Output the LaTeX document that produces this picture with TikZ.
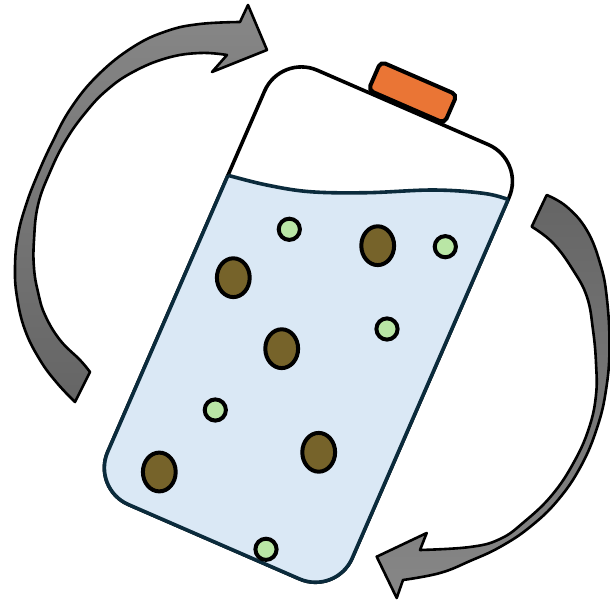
\documentclass[tikz,border=0pt]{standalone}
\begin{document}
\definecolor{liquidblue}{HTML}{DAE8F5}
\definecolor{liquidedge}{HTML}{0B2B3C}
\definecolor{capfill}{HTML}{EA7535}
\definecolor{grainbrown}{HTML}{76632A}
\definecolor{seedgreen}{HTML}{B9E6A5}
\definecolor{arrowlight}{HTML}{878787}
\definecolor{arrowdark}{HTML}{656565}
\begin{tikzpicture}[x=1pt,y=-1pt,
  arrowband/.style={draw=black, line width=2.6pt, line join=round},
  bottleshell/.style={draw=black, line width=3.6pt, fill=white},
  liquidline/.style={draw=liquidedge, line width=3.6pt},
  capbox/.style={draw=black, line width=4pt, fill=capfill, rounded corners=5pt},
  grain/.style={draw=black, line width=4pt, fill=grainbrown},
  seed/.style={draw=black, line width=4pt, fill=seedgreen},
  bottleframe/.style={shift={(308.4,324.6)}, rotate=-23.5},
  pixelframe/.style={rotate=23.5, shift={(-308.4,-324.6)}}]
\useasboundingbox (0,0) rectangle (610,601);

% curved arrow on the left, turning clockwise over the top
\draw[arrowband, top color=arrowlight, bottom color=arrowdark]
  (90,372) -- (75,402)
  -- plot[smooth, tension=0.7] coordinates {(75,402) (57,383) (40,360) (25,330) (17,297) (15,267) (18,235) (26,205) (37,176) (52,143) (71,108) (98,75) (133,47) (167,31) (200,24) (240,22)}
  -- (248,5) -- (267,50) -- (212,72) -- (227,55)
  -- plot[smooth, tension=0.7] coordinates {(227,55) (200,53) (167,58) (133,72) (107,90) (86,112) (66,140) (50,172) (38,205) (34,240) (34,268) (38,292) (45,315) (60,340) (80,360) (90,372)}
  -- cycle;

% curved arrow on the right, turning clockwise under the bottom
\draw[arrowband, top color=arrowdark, bottom color=arrowlight]
  (531.7,226.7) -- (546.7,195)
  -- plot[smooth, tension=0.7] coordinates {(546.7,195) (566.7,206.7) (586.7,230) (600,263) (606.7,296.7) (609.5,346.7) (606,390) (597,428) (581,466) (558,500) (530,527) (500,547) (470,561) (440,573) (403,580)}
  -- (396.7,598) -- (376.7,556.7) -- (426.7,533) -- (420,550)
  -- plot[smooth, tension=0.7] coordinates {(420,550) (470,547) (500,539) (524,522) (552,495) (574,462) (589,428) (596,395) (596,363) (593,330) (587,297) (573,270) (553,243) (531.7,226.7)}
  -- cycle;

% empty bottle shell
\begin{scope}[bottleframe]
  \path[bottleshell, rounded corners=40pt] (-133.3,-236.8) rectangle (133.3,236.8);
\end{scope}

% liquid below the surface
\begin{scope}
  \clip plot[smooth, tension=0.6] coordinates {(212,171) (226.7,175) (266.7,185) (310,191.7) (366.7,192.7) (433.3,190) (483.3,193.3) (510,200) (524,206)}
    -- (615,206) -- (615,615) -- (-5,615) -- (-5,171) -- cycle;
  \begin{scope}[bottleframe]
    \fill[liquidblue, rounded corners=40pt] (-133.3,-236.8) rectangle (133.3,236.8);
    \path[liquidline, rounded corners=40pt] (-133.3,-236.8) rectangle (133.3,236.8);
  \end{scope}
\end{scope}

% liquid surface
\begin{scope}[bottleframe]
  \clip[rounded corners=40pt] (-133.3,-236.8) rectangle (133.3,236.8);
  \begin{scope}[pixelframe]
    \draw[liquidline, line cap=round] plot[smooth, tension=0.6] coordinates {(212,171) (226.7,175) (266.7,185) (310,191.7) (366.7,192.7) (433.3,190) (483.3,193.3) (510,200) (524,206)};
  \end{scope}
\end{scope}

% cap
\begin{scope}[bottleframe]
  \path[capbox] (-38.5,-270) rectangle (44.5,-239);
\end{scope}

% suspended particles
\path[grain] (233.3,277.7) ellipse [x radius=16.4pt, y radius=19.4pt];
\path[grain] (377.7,245.7) ellipse [x radius=16.4pt, y radius=19.4pt];
\path[grain] (281.7,348.7) ellipse [x radius=16.4pt, y radius=19.4pt];
\path[grain] (318.7,452.3) ellipse [x radius=16.4pt, y radius=19.4pt];
\path[grain] (159.3,472) ellipse [x radius=16.4pt, y radius=19.4pt];

\path[seed] (289.3,229.3) circle [radius=10.6pt];
\path[seed] (445.3,246.7) circle [radius=10.6pt];
\path[seed] (387,329) circle [radius=10.6pt];
\path[seed] (215.3,410) circle [radius=10.6pt];
\path[seed] (266,549.3) circle [radius=10.6pt];
\end{tikzpicture}
\end{document}
